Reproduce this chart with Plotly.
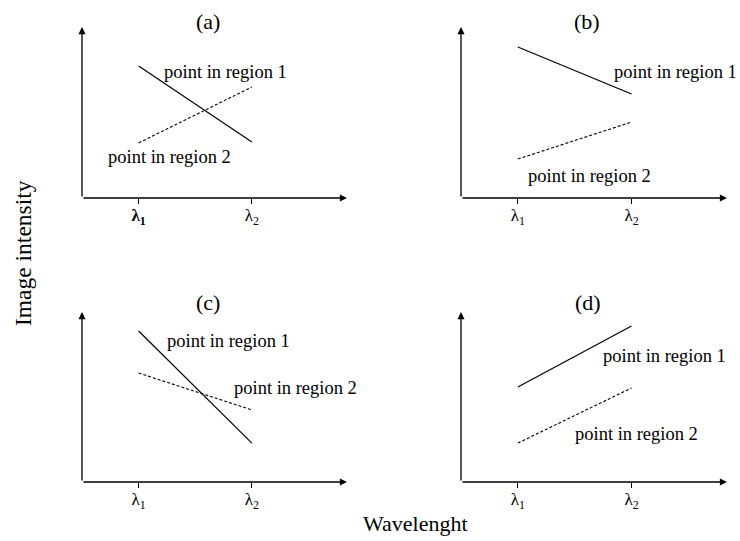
import plotly.graph_objects as go

# ---------------- data ----------------
lam_vals = [1, 2]
lam_labels_a = ["<b>λ<sub>1</sub></b>", "λ<sub>2</sub>"]
lam_labels = ["λ<sub>1</sub>", "λ<sub>2</sub>"]
panel_titles = ["(a)", "(b)", "(c)", "(d)"]

region1_a = [0.772, 0.327]
region2_a = [0.322, 0.649]
region1_b = [0.883, 0.608]
region2_b = [0.228, 0.444]
region1_c = [0.888, 0.229]
region2_c = [0.641, 0.424]
region1_d = [0.559, 0.918]
region2_d = [0.229, 0.553]

label1 = "point in region 1"
label2 = "point in region 2"
x_title = "Wavelenght"
y_title = "Image intensity"

# ---------------- layout helpers ----------------
W, H = 740, 541
FONT = "Liberation Serif"
XR = [0.5, 2.84]
YR = [0, 1]


def px_x(p):
    return p / W


def px_y(p):
    return 1 - p / H


# panel pixel boxes: (left, right, top, bottom)
boxes = [(82, 347, 27, 198), (461, 727, 27, 198),
         (82, 347, 312, 482), (461, 727, 312, 482)]

series = [(region1_a, region2_a), (region1_b, region2_b),
          (region1_c, region2_c), (region1_d, region2_d)]

# label anchor positions (in axis units) per panel
label_pos = [((1.763, 0.737), (1.269, 0.240)),
             ((2.386, 0.737), (1.631, 0.129)),
             ((1.794, 0.829), (2.386, 0.553)),
             ((2.289, 0.741), (2.042, 0.282))]

title_px = [(208, 22), (587, 22), (208, 302), (588, 302)]

fig = go.Figure()
layout = dict(width=W, height=H, margin=dict(l=0, r=0, t=0, b=0),
              paper_bgcolor="white", plot_bgcolor="white",
              showlegend=False, font=dict(family=FONT, color="black"))
annotations = []

for i in range(4):
    n = i + 1
    xa = "x" if n == 1 else f"x{n}"
    ya = "y" if n == 1 else f"y{n}"
    xkey = "xaxis" if n == 1 else f"xaxis{n}"
    ykey = "yaxis" if n == 1 else f"yaxis{n}"
    l, r, t, b = boxes[i]
    ticktext = lam_labels_a if i == 0 else lam_labels
    layout[xkey] = dict(domain=[px_x(l), px_x(r)], range=XR, anchor=ya,
                        showgrid=False, zeroline=False, showline=False,
                        tickvals=lam_vals, ticktext=ticktext,
                        ticks="outside", ticklen=5, tickwidth=1.2, tickcolor="black",
                        ticklabelstandoff=-3,
                        tickfont=dict(family=FONT, size=17, color="black"),
                        fixedrange=True)
    layout[ykey] = dict(domain=[px_y(b), px_y(t)], range=YR, anchor=xa,
                        visible=False, fixedrange=True)
    # overlay axis for the upper half of the crossing ticks
    on = n + 4
    layout[f"xaxis{on}"] = dict(overlaying=xa, anchor=ya, range=XR,
                                domain=[px_x(l), px_x(r)],
                                showgrid=False, zeroline=False, showline=False,
                                tickvals=lam_vals, showticklabels=False,
                                ticks="inside", ticklen=5, tickwidth=1.2,
                                tickcolor="black", fixedrange=True)

    s1, s2 = series[i]
    fig.add_trace(go.Scatter(x=lam_vals, y=s1, mode="lines", xaxis=xa, yaxis=ya,
                             line=dict(color="black", width=1.2),
                             hoverinfo="skip"))
    fig.add_trace(go.Scatter(x=lam_vals, y=s2, mode="lines", xaxis=xa, yaxis=ya,
                             line=dict(color="black", width=1.1, dash="3px,2px"),
                             hoverinfo="skip"))

    # axis arrows
    annotations.append(dict(x=XR[1], y=0, ax=XR[0], ay=0, xref=xa, yref=ya,
                            axref=xa, ayref=ya, text="", showarrow=True,
                            arrowhead=2, arrowsize=1.1, arrowwidth=1.3,
                            arrowcolor="black", standoff=0, startstandoff=0))
    annotations.append(dict(x=XR[0], y=YR[1], ax=XR[0], ay=0, xref=xa, yref=ya,
                            axref=xa, ayref=ya, text="", showarrow=True,
                            arrowhead=2, arrowsize=1.1, arrowwidth=1.3,
                            arrowcolor="black", standoff=0, startstandoff=0))

    # curve labels
    (lx1, ly1), (lx2, ly2) = label_pos[i]
    annotations.append(dict(x=lx1, y=ly1, xref=xa, yref=ya, text=label1,
                            showarrow=False, xanchor="center", yanchor="middle",
                            font=dict(family=FONT, size=18.5, color="black")))
    annotations.append(dict(x=lx2, y=ly2, xref=xa, yref=ya, text=label2,
                            showarrow=False, xanchor="center", yanchor="middle",
                            font=dict(family=FONT, size=18.5, color="black")))

    # panel title
    tx, ty = title_px[i]
    annotations.append(dict(x=px_x(tx), y=px_y(ty), xref="paper", yref="paper",
                            text=panel_titles[i], showarrow=False,
                            xanchor="center", yanchor="middle",
                            font=dict(family=FONT, size=22, color="black")))

annotations.append(dict(x=px_x(415), y=px_y(523), xref="paper", yref="paper",
                        text=x_title, showarrow=False, xanchor="center",
                        yanchor="middle", font=dict(family=FONT, size=22, color="black")))
annotations.append(dict(x=px_x(23), y=px_y(253), xref="paper", yref="paper",
                        text=y_title, showarrow=False, textangle=-90,
                        xanchor="center", yanchor="middle",
                        font=dict(family=FONT, size=23.5, color="black")))

layout["annotations"] = annotations
fig.update_layout(**layout)
fig.write_html("out.html", config={"displayModeBar": False})
